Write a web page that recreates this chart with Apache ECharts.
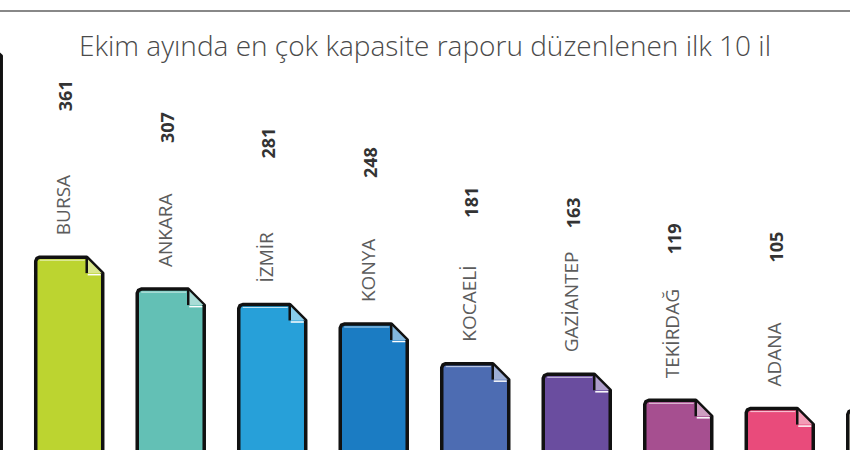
<!DOCTYPE html>
<html>
<head>
<meta charset="utf-8">
<script src="https://cdn.jsdelivr.net/npm/echarts@6/dist/echarts.min.js"></script>
<style>
  html, body { margin: 0; padding: 0; background: #fff; }
  #chart { width: 850px; height: 450px; }
</style>
</head>
<body>
<div id="chart"></div>
<script>
// first and last city are cut off in the picture
var cities = ['İSTANBUL', 'BURSA', 'ANKARA', 'İZMİR', 'KONYA', 'KOCAELİ', 'GAZİANTEP', 'TEKİRDAĞ', 'ADANA', ''];
var reports = [728, 361, 307, 281, 248, 181, 163, 119, 105, 102];
var showLabel = [false, true, true, true, true, true, true, true, true, false];

var barColors = ['#e4322b', '#bcd430', '#63c0b5', '#27a0d9', '#1b7cc3', '#4d6cb2', '#6a4d9f', '#a64f90', '#e94b7b', '#fbf7e6'];

function tint(hex, k) {
  var n = parseInt(hex.slice(1), 16);
  var r = (n >> 16) & 255, g = (n >> 8) & 255, b = n & 255;
  r = Math.round(r + (255 - r) * k);
  g = Math.round(g + (255 - g) * k);
  b = Math.round(b + (255 - b) * k);
  return 'rgb(' + r + ',' + g + ',' + b + ')';
}

var chart = echarts.init(document.getElementById('chart'), null, { renderer: 'svg' });

function renderDoc(params, api) {
  var i = api.value(0);
  var v = api.value(1);
  var top = api.coord([i, v]);
  var base = api.coord([i, 0]);
  var w = api.size([1, 0])[0] * 0.66;
  var c = 16;
  var x0 = top[0] - w / 2, x1 = top[0] + w / 2;
  var y0 = top[1], y1 = base[1];
  var col = barColors[i];
  var kids = [
    {
      type: 'polygon',
      shape: { points: [[x0, y1], [x0, y0 + 4], [x0 + 1.2, y0 + 1.2], [x0 + 4, y0], [x1 - c, y0], [x1, y0 + c], [x1, y1]] },
      style: { fill: col, stroke: '#111', lineWidth: 3.5, lineJoin: 'round' }
    },
    {
      type: 'line',
      shape: { x1: x0 + 4, y1: y0 + 3, x2: x1 - c - 2, y2: y0 + 3 },
      style: { stroke: 'rgba(255,255,255,0.7)', lineWidth: 1 }
    },
    {
      type: 'polygon',
      shape: { points: [[x1 - c, y0 + 1], [x1 - c, y0 + c], [x1 - 1, y0 + c]] },
      style: { fill: tint(col, 0.45) }
    },
    {
      type: 'line',
      shape: { x1: x1 - c + 1, y1: y0 + c + 1.5, x2: x1 - 2, y2: y0 + c + 1.5 },
      style: { stroke: '#fff', lineWidth: 1.5 }
    },
    {
      type: 'line',
      shape: { x1: x1 - c, y1: y0, x2: x1 - c, y2: y0 + c },
      style: { stroke: '#111', lineWidth: 2.5 }
    }
  ];
  if (showLabel[i]) {
    kids.push({
      type: 'text',
      x: top[0] - 6,
      y: y0 - 22,
      rotation: Math.PI / 2,
      style: {
        text: cities[i],
        fill: '#5c5c5c',
        fontFamily: 'Open Sans',
        fontSize: 19,
        align: 'left',
        verticalAlign: 'middle'
      }
    });
    kids.push({
      type: 'text',
      x: top[0] - 4,
      y: y0 - 146,
      rotation: Math.PI / 2,
      style: {
        text: String(v),
        fill: '#333',
        fontFamily: 'Open Sans',
        fontSize: 18,
        fontWeight: 'bold',
        align: 'left',
        verticalAlign: 'middle'
      }
    });
  }
  return { type: 'group', children: kids };
}

var option = {
  animation: false,
  title: {
    text: 'Ekim ayında en çok kapasite raporu düzenlenen ilk 10 il',
    left: 'center',
    top: 26,
    textStyle: {
      color: '#4a4a4a',
      fontFamily: 'Open Sans',
      fontSize: 28,
      fontWeight: 300
    }
  },
  graphic: [{
    type: 'line',
    shape: { x1: 0, y1: 11, x2: 850, y2: 11 },
    style: { stroke: '#888', lineWidth: 2 }
  }],
  grid: { left: 0, right: 0, top: 20, bottom: 0 },
  // the picture is a crop: first bar sits mostly left of the frame, last one right of it
  xAxis: {
    type: 'value',
    min: 0.318,
    max: 8.692,
    show: false
  },
  yAxis: {
    type: 'value',
    min: 35,
    max: 762,
    show: false
  },
  series: [{
    type: 'custom',
    clip: false,
    renderItem: renderDoc,
    encode: { x: 0, y: 1 },
    data: reports.map(function (v, i) { return [i, v]; })
  }]
};

chart.setOption(option);
</script>
</body>
</html>
